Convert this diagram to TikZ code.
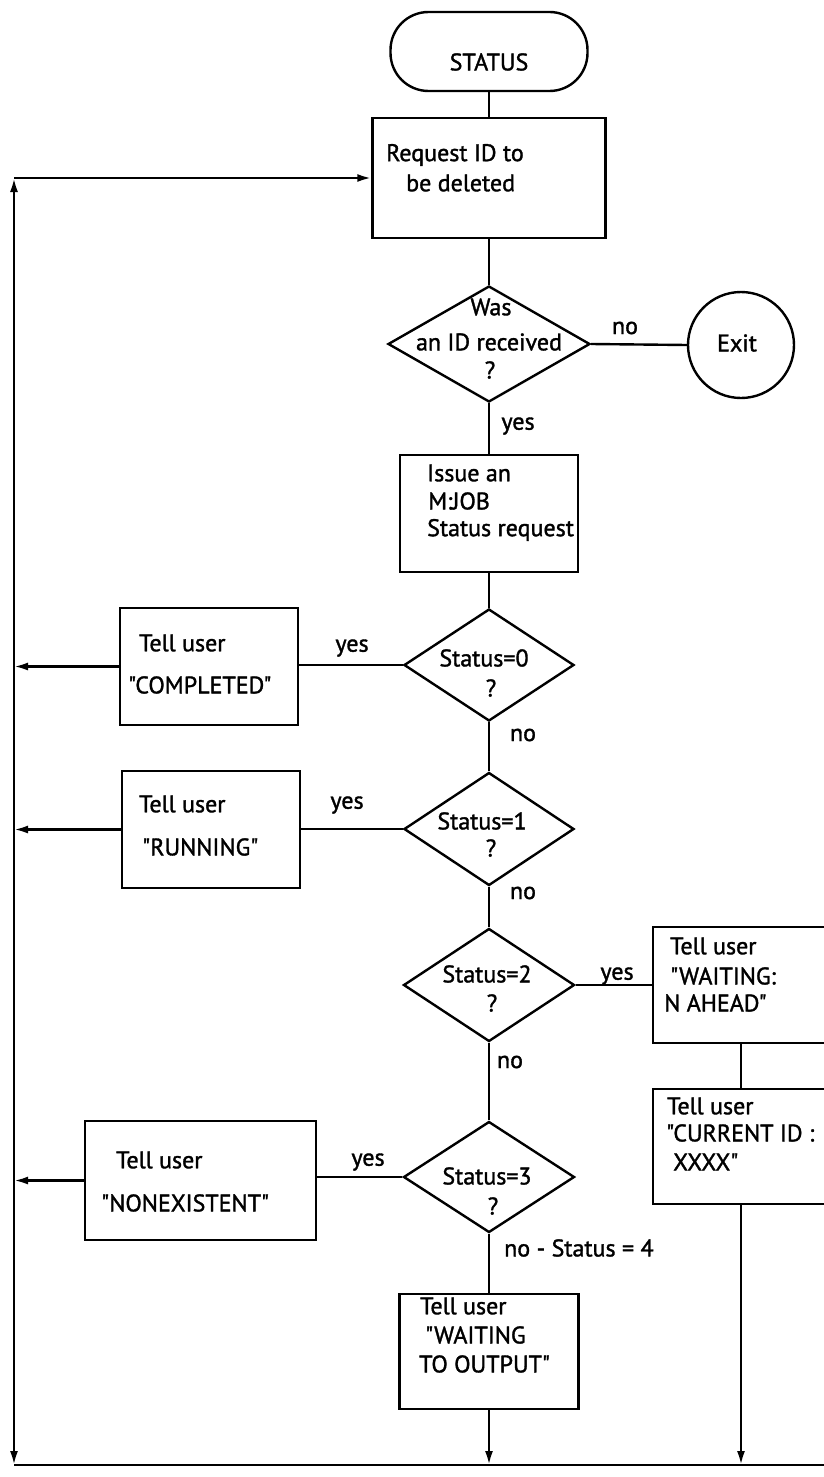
\documentclass[tikz,border=0pt]{standalone}
\usepackage{fontspec}
\setmainfont{PT Sans}[FakeBold=1.4, Ligatures=TeXOff]
\usetikzlibrary{shapes.geometric,arrows.meta}
\newcommand{\sq}{\char34\relax}
\begin{document}
\begin{tikzpicture}[x=1pt,y=-1pt,
  flow/.style={line width=2.4pt},
  arr/.style={line width=2.4pt,-{Latex[length=14pt,width=8pt]}},
  twoarr/.style={line width=2.4pt,{Latex[length=14pt,width=8pt]}-{Latex[length=14pt,width=8pt]}},
  box/.style={draw,line width=2.4pt,rectangle,inner sep=0pt},
  term/.style={box,rounded corners=38pt},
  dia/.style={draw,line width=2.4pt,diamond,inner sep=0pt},
  txt/.style={inner sep=0pt,font=\fontsize{24}{28}\selectfont},
]
\useasboundingbox (0,0) rectangle (824,1477);
\fill[white] (0,0) rectangle (824,1477);
\clip (0,0) rectangle (824,1477);

% ---- main column -------------------------------------------------
\node[term, minimum width=197pt, minimum height=79pt] (status) at (489,51.5) {};
\node[txt] (tstatus) at (489,62) {STATUS};

\node[box, minimum width=233pt, minimum height=120pt] (req) at (489,178) {};
\node[txt, anchor=west] (treq1) at (386,155) {Request ID to};
\node[txt, anchor=west] (treq2) at (406,183) {be deleted};

\node[dia, minimum width=202pt, minimum height=116pt] (did) at (489,344) {};
\node[txt] (tdid1) at (491,307) {Was};
\node[txt] (tdid2) at (489,342) {an ID received};
\node[txt] (tdid3) at (490,370) {?};

\node[draw, line width=2.4pt, circle, minimum size=106pt, inner sep=0pt] (exit) at (741,345) {};
\node[txt] (texit) at (737,343) {Exit};

\node[box, minimum width=178pt, minimum height=117pt] (issue) at (489,513.5) {};
\node[txt, anchor=west] (tiss1) at (427,473) {Issue an};
\node[txt, anchor=west] (tiss2) at (428,501) {M:JOB};
\node[txt, anchor=west] (tiss3) at (427,530) {Status request};

\node[dia, minimum width=170pt, minimum height=112pt] (d0) at (489,665) {};
\node[txt] (td01) at (484,658) {Status=0};
\node[txt] (td02) at (491,688) {?};

\node[dia, minimum width=170pt, minimum height=113pt] (d1) at (489,829) {};
\node[txt] (td11) at (482,821) {Status=1};
\node[txt] (td12) at (491,848) {?};

\node[dia, minimum width=171pt, minimum height=113pt] (d2) at (489,985) {};
\node[txt] (td21) at (487,974) {Status=2};
\node[txt] (td22) at (492,1003) {?};

\node[dia, minimum width=171pt, minimum height=111pt] (d3) at (489,1177) {};
\node[txt] (td31) at (487,1176) {Status=3};
\node[txt] (td32) at (493,1206) {?};

\node[box, minimum width=179pt, minimum height=115pt] (wout) at (489,1351.5) {};
\node[txt, anchor=west] (two1) at (420,1306) {Tell user};
\node[txt, anchor=west] (two2) at (425,1335) {\sq WAITING};
\node[txt, anchor=west] (two3) at (419,1364) {TO OUTPUT\sq};

% ---- left column -------------------------------------------------
\node[box, minimum width=178pt, minimum height=117pt] (comp) at (209,666.5) {};
\node[txt, anchor=west] (tcomp1) at (139,643) {Tell user};
\node[txt, anchor=west] (tcomp2) at (128,685) {\sq COMPLETED\sq};

\node[box, minimum width=178pt, minimum height=117pt] (run) at (211,829.5) {};
\node[txt, anchor=west] (trun1) at (139,804) {Tell user};
\node[txt, anchor=west] (trun2) at (142,847) {\sq RUNNING\sq};

\node[box, minimum width=231pt, minimum height=119pt] (nonex) at (200.5,1180.5) {};
\node[txt, anchor=west] (tnon1) at (116,1160) {Tell user};
\node[txt, anchor=west] (tnon2) at (101,1203) {\sq NONEXISTENT\sq};

% ---- right column ------------------------------------------------
\node[box, minimum width=197pt, minimum height=116pt] (wait) at (751.5,985) {};
\node[txt, anchor=west] (twait1) at (670,946) {Tell user};
\node[txt, anchor=west] (twait2) at (670,976) {\sq WAITING:};
\node[txt, anchor=west] (twait3) at (664,1003) {N AHEAD\sq};

\node[box, minimum width=197pt, minimum height=115pt] (cur) at (751.5,1146.5) {};
\node[txt, anchor=west] (tcur1) at (667,1106) {Tell user};
\node[txt, anchor=west] (tcur2) at (666,1133) {\sq CURRENT ID :};
\node[txt, anchor=west] (tcur3) at (673,1162) {XXXX\sq};

% ---- frame of the return path ------------------------------------
\coordinate (topL) at (14,178);
\coordinate (botL) at (14,1465);
\coordinate (botR) at (830,1465);
\coordinate (rcol) at (741,0);

% ---- connectors --------------------------------------------------
\draw[flow] (status.south) -- (req.north);
\draw[flow] (req.south) -- (did.north);
\draw[flow] (did.east) -- (exit.west);
\draw[flow] (did.south) -- (issue.north);
\draw[flow] (issue.south) -- (d0.north);
\draw[flow] (d0.west) -- (d0.west -| comp.east);
\draw[flow] (d0.south) -- (d1.north);
\draw[flow] (d1.west) -- (d1.west -| run.east);
\draw[flow] (d1.south) -- (d2.north);
\draw[flow] (d2.east) -- (d2.east -| wait.west);
\draw[flow] (d2.south) -- (d3.north);
\draw[flow] (d3.west) -- (d3.west -| nonex.east);
\draw[flow] (d3.south) -- (wout.north);
\draw[flow] (rcol |- wait.south) -- (rcol |- cur.north);

\draw[arr] (comp.west) -- (comp.west -| topL);
\draw[arr] (run.west) -- (run.west -| topL);
\draw[arr] (nonex.west) -- (nonex.west -| topL);
\draw[arr] (wout.south) -- (wout.south |- botL);
\draw[arr] (rcol |- cur.south) -- (rcol |- botL);

\draw[flow] (botL) -- (botR);
\draw[twoarr] (topL) -- (botL);
\draw[arr] (topL) -- (req.west);

% ---- branch labels -----------------------------------------------
\node[txt] (lno0) at (625,328) {no};
\node[txt] (lyes0) at (518,426) {yes};
\node[txt] (lyes1) at (352,648) {yes};
\node[txt] (lno1) at (523,735) {no};
\node[txt] (lyes2) at (347,805) {yes};
\node[txt] (lno2) at (523,893) {no};
\node[txt] (lyes3) at (617,976) {yes};
\node[txt] (lno3) at (510,1062) {no};
\node[txt] (lyes4) at (368,1162) {yes};
\node[txt, anchor=west] (lno4) at (504,1248) {no - Status = 4};
\end{tikzpicture}
\end{document}
